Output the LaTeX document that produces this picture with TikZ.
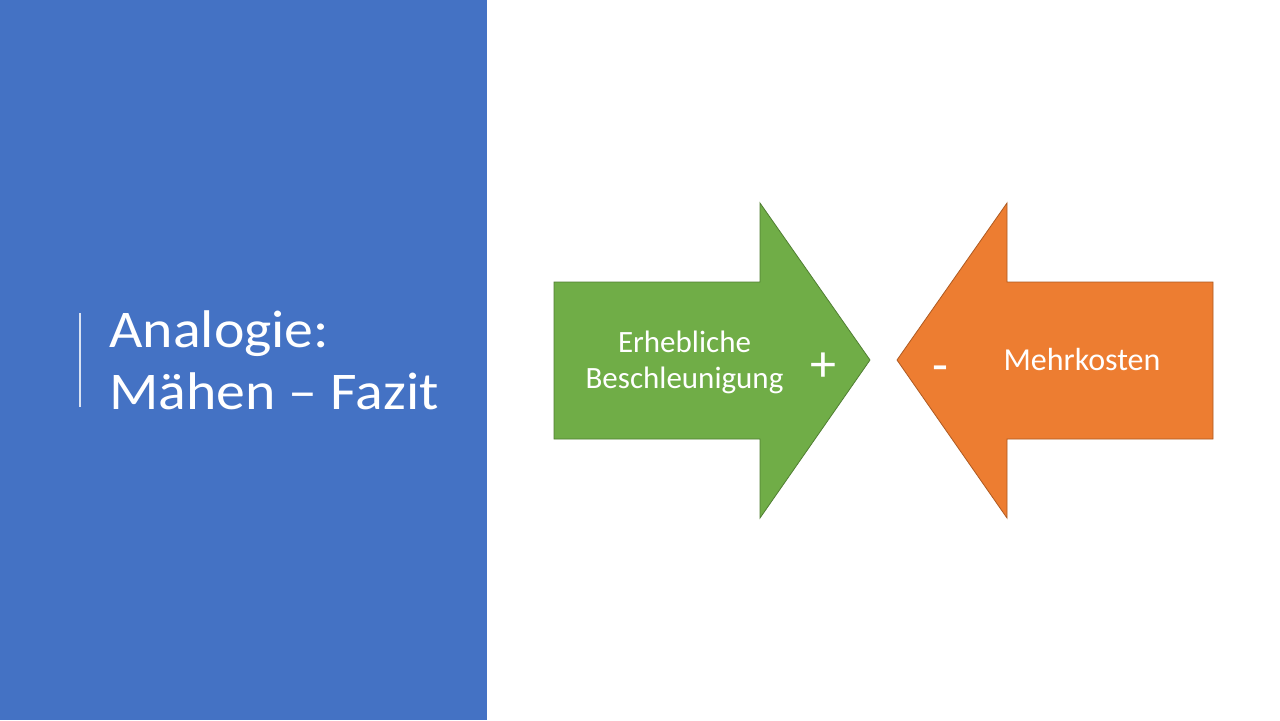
\documentclass[tikz,border=0pt]{standalone}
\usepackage{fontspec}
\setmainfont{Carlito}
\newfontfamily\titlefont[FakeStretch=1.09]{Carlito}
\definecolor{slideblue}{HTML}{4472C4}
\definecolor{plusgreen}{HTML}{70AD47}
\definecolor{plusedge}{HTML}{507E32}
\definecolor{minusorange}{HTML}{ED7D31}
\definecolor{minusedge}{HTML}{AE5A21}

\begin{document}
\begin{tikzpicture}[x=0.5pt,y=-0.5pt,
	titletext/.style={anchor=base west,inner sep=0pt,text=white,font=\titlefont\fontsize{26.5}{31}\selectfont},
	arrtext/.style={anchor=base,inner sep=0pt,text=white,font=\fontsize{15.5}{18}\selectfont},
	signtext/.style={inner sep=0pt,text=white,font=\fontsize{26}{30}\selectfont}]
	\useasboundingbox (0,0) rectangle (1280,720);
	\fill[white] (0,0) rectangle (1280,720);
	\fill[slideblue] (0,0) rectangle (487,720);
	% title with thin bar
	\draw[white!80!slideblue,line width=0.75pt] (80,313) -- (80,407);
	\node[titletext] (title1) at (109,347) {Analogie:};
	\node[titletext] (title2) at (109,409) {Mähen – Fazit};
	% green arrow
	\draw[fill=plusgreen,draw=plusedge,line width=0.4pt] (554,282) -- (760,282) -- (760,203) -- (870,360) -- (760,518) -- (760,439) -- (554,439) -- cycle;
	\node[arrtext] (pro1) at (684.5,352) {Erhebliche};
	\node[arrtext] (pro2) at (684.5,388) {Beschleunigung};
	\node[signtext] (plus) at (823,367) {+};
	% orange arrow
	\draw[fill=minusorange,draw=minusedge,line width=0.4pt] (1213,282) -- (1007,282) -- (1007,203) -- (897,360) -- (1007,518) -- (1007,439) -- (1213,439) -- cycle;
	\node[arrtext,font=\fontsize{16}{19}\selectfont] (contra) at (1082,370) {Mehrkosten};
	\node[signtext] (minus) at (940,374) {-};
\end{tikzpicture}
\end{document}
